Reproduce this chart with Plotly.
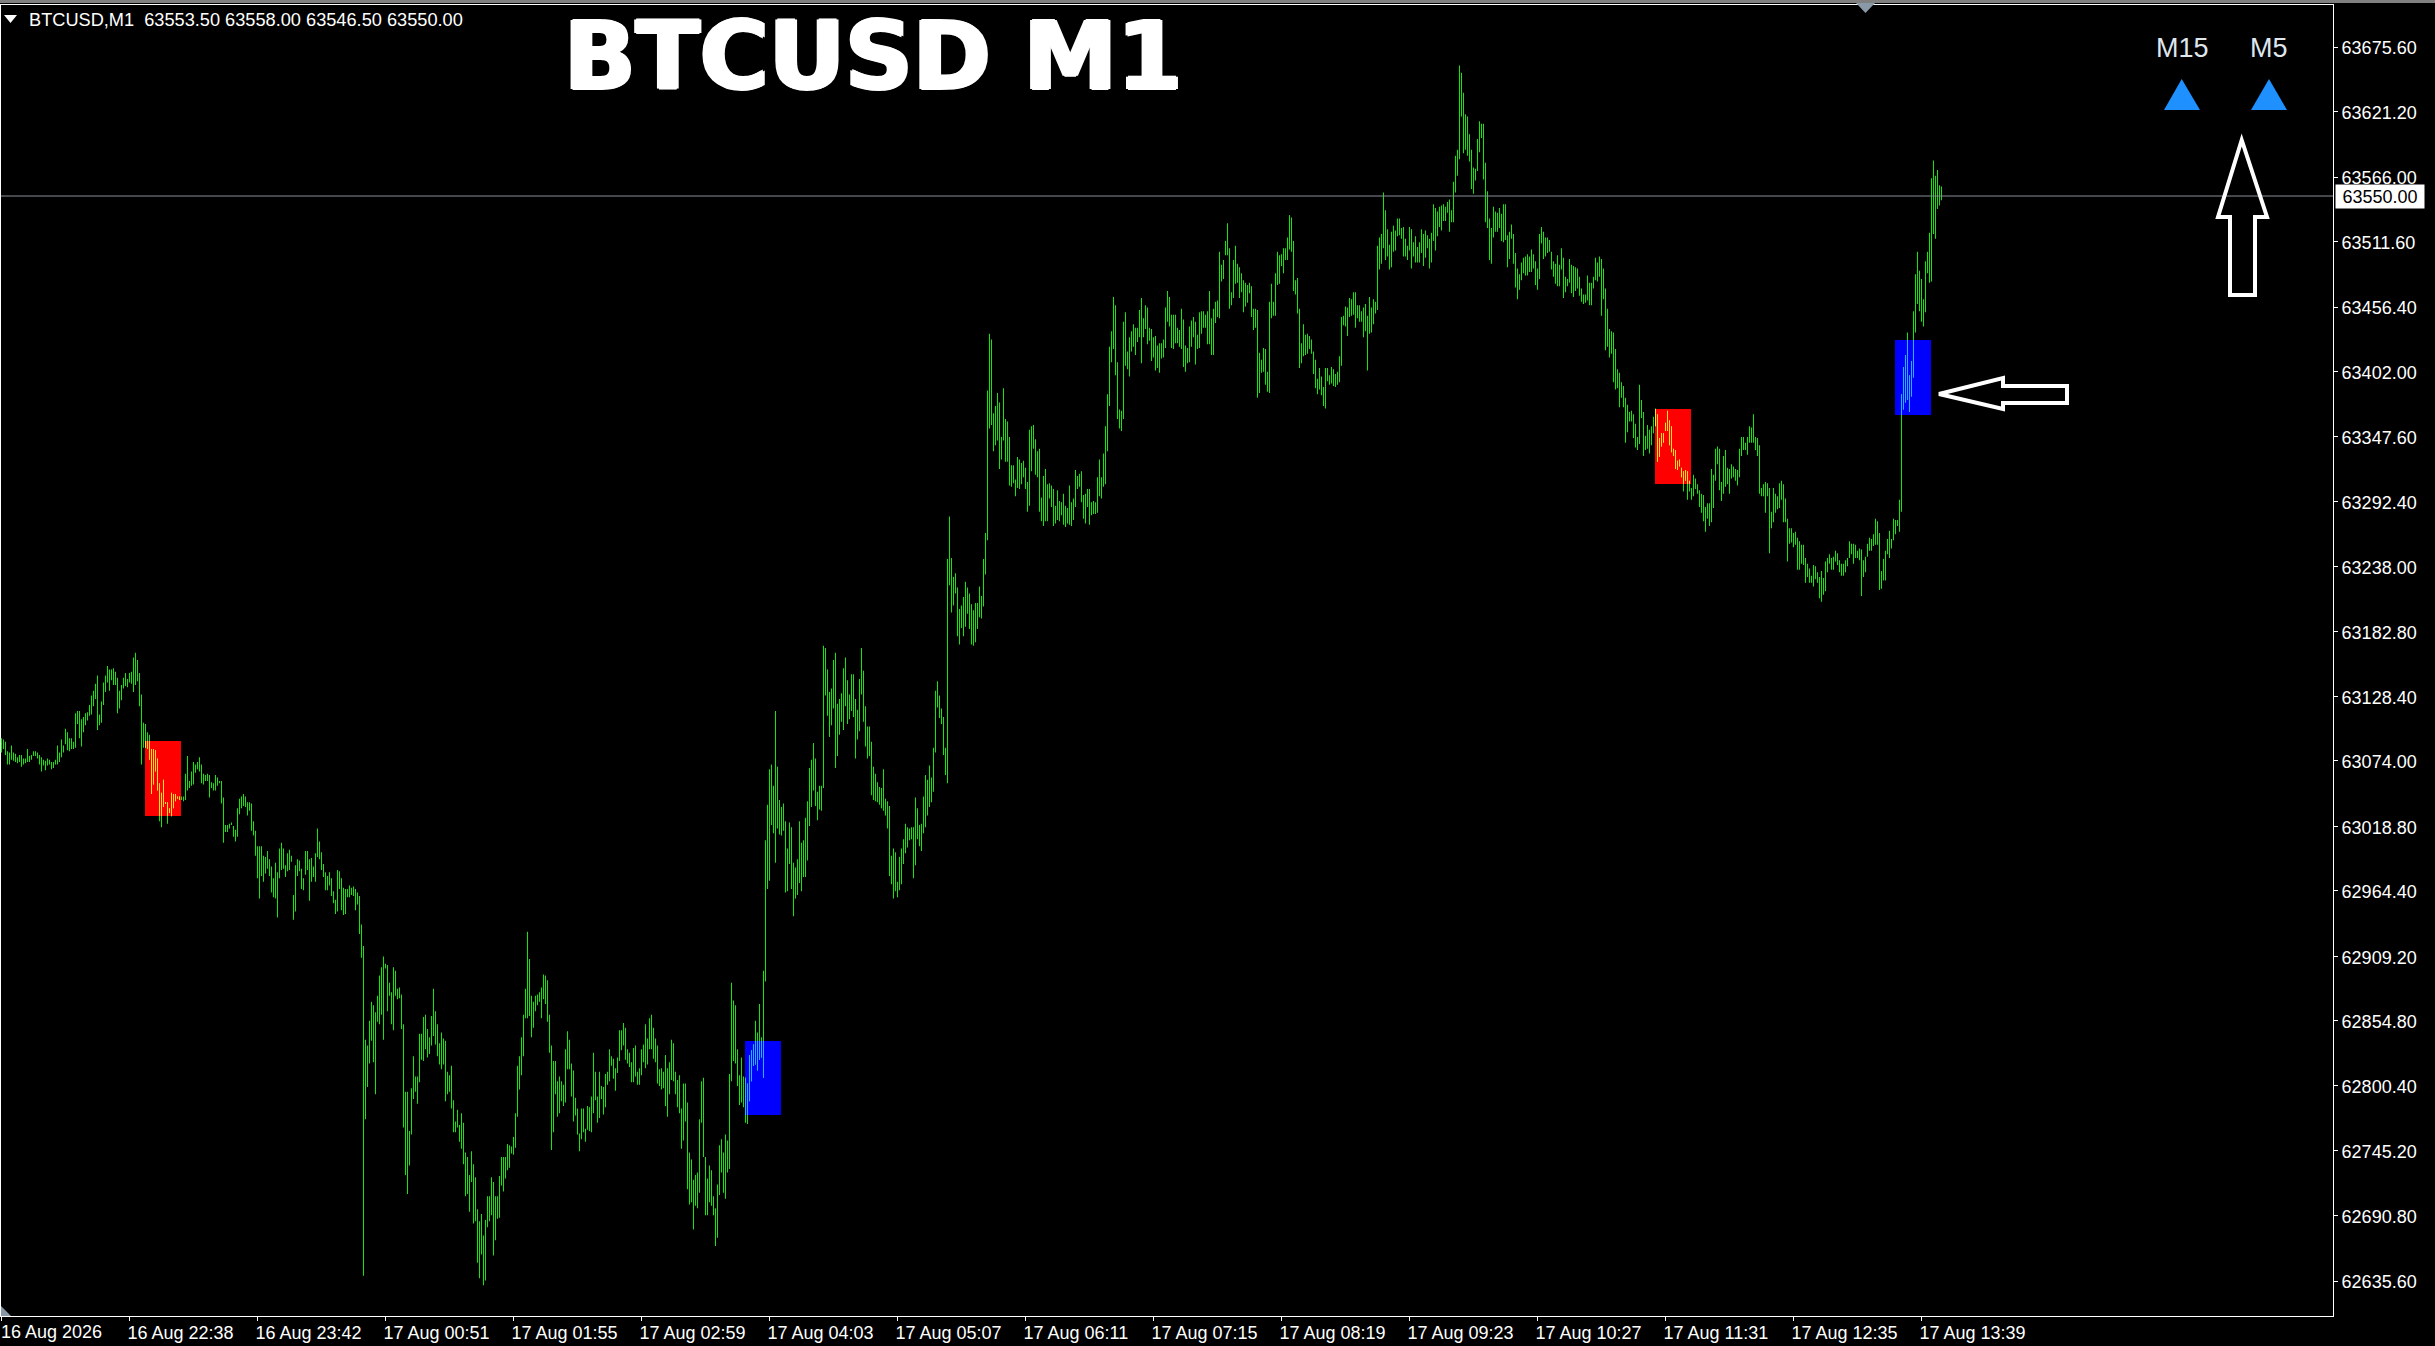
import numpy as np
import plotly.graph_objects as go

high = [
63093,63092,63090,63082,63081,63087,63081,63080,63077,63079,63079,63076,63076,63084,63078,63079,63082,63082,63081,63079,
63077,63075,63074,63076,63075,63073,63073,63075,63087,63081,63092,63087,63101,63098,63093,63093,63090,63114,63116,63116,
63109,63111,63114,63115,63121,63129,63133,63139,63146,63113,63124,63140,63146,63154,63151,63151,63152,63149,63144,63133,
63138,63144,63148,63143,63148,63149,63161,63165,63159,63148,63130,63106,63105,63098,63096,63084,63084,63083,63076,63055,
63047,63058,63039,63039,63034,63047,63046,63046,63044,63044,63044,63044,63063,63078,63057,63065,63073,63071,63073,63077,
63071,63063,63062,63063,63062,63056,63055,63062,63060,63057,63057,63043,63020,63020,63021,63022,63019,63016,63034,63042,
63044,63046,63044,63039,63039,63038,63023,63015,63002,63002,63002,62994,62993,62998,62991,62985,62975,62988,62980,63000,
63005,63000,62986,62996,62999,62994,62961,62986,62991,62990,62983,62975,62998,62998,62991,62992,62985,62996,63017,63006,
62997,62987,62980,62977,62980,62975,62964,62957,62982,62981,62975,62967,62966,62966,62969,62967,62968,62966,62963,62960,
62936,62918,62839,62834,62855,62871,62868,62862,62876,62893,62900,62909,62903,62902,62887,62879,62900,62897,62882,62883,
62877,62852,62795,62795,62762,62798,62825,62808,62808,62844,62844,62858,62860,62848,62841,62859,62882,62863,62852,62836,
62845,62840,62838,62812,62809,62817,62788,62770,62780,62767,62777,62769,62744,62740,62725,62745,62734,62723,62696,62686,
62692,62674,62687,62707,62707,62723,62719,62707,62707,62724,62740,62740,62740,62751,62750,62749,62757,62777,62817,62825,
62841,62860,62882,62930,62907,62876,62871,62876,62877,62879,62883,62894,62893,62889,62860,62834,62821,62821,62804,62808,
62804,62801,62831,62846,62839,62819,62813,62790,62781,62760,62781,62781,62764,62783,62782,62791,62828,62812,62791,62812,
62800,62799,62810,62812,62831,62825,62823,62815,62824,62847,62847,62853,62849,62831,62828,62820,62832,62834,62812,62815,
62831,62835,62852,62840,62857,62860,62849,62840,62834,62814,62815,62812,62826,62815,62820,62839,62836,62812,62805,62809,
62781,62802,62802,62786,62744,62738,62721,62725,62727,62772,62804,62807,62740,62722,62733,62729,62707,62697,62717,62750,
62755,62744,62759,62754,62810,62887,62872,62868,62831,62809,62824,62808,62807,62802,62826,62830,62835,62855,62845,62869,
62841,62897,63007,63037,63067,63071,63053,63116,63069,63041,63035,63038,63023,63000,63022,63018,62988,62984,62991,63023,
63005,63007,63026,63040,63068,63075,63089,63076,63048,63053,63053,63171,63169,63151,63132,63135,63159,63165,63122,63126,
63131,63152,63161,63142,63130,63147,63147,63126,63117,63143,63169,63150,63120,63103,63103,63090,63069,63063,63056,63052,
63051,63067,63042,63040,63036,62994,63000,62997,62972,62993,63000,63008,63021,63018,63017,63018,63018,63043,63034,63020,
63021,63044,63062,63058,63070,63060,63085,63133,63141,63129,63118,63111,63085,63244,63280,63245,63229,63232,63220,63202,
63205,63212,63225,63220,63215,63206,63201,63207,63207,63221,63213,63244,63266,63386,63434,63429,63367,63373,63384,63376,
63347,63388,63362,63360,63347,63323,63323,63311,63330,63328,63325,63327,63321,63309,63353,63356,63357,63345,63335,63337,
63296,63314,63320,63307,63308,63306,63303,63289,63302,63293,63292,63299,63289,63287,63306,63292,63295,63319,63314,63316,
63318,63298,63299,63303,63303,63292,63293,63292,63313,63328,63313,63333,63356,63383,63423,63436,63465,63458,63410,63370,
63369,63444,63452,63419,63431,63436,63442,63439,63439,63454,63464,63447,63458,63456,63439,63438,63431,63432,63424,63426,
63426,63429,63456,63470,63465,63450,63450,63450,63439,63437,63455,63446,63424,63422,63440,63445,63448,63444,63433,63452,
63453,63453,63450,63453,63470,63447,63455,63461,63462,63503,63492,63496,63512,63527,63506,63469,63496,63508,63493,63490,
63485,63479,63477,63475,63477,63474,63455,63455,63454,63418,63412,63422,63421,63402,63461,63476,63461,63485,63503,63500,
63501,63506,63506,63515,63534,63532,63512,63479,63481,63455,63426,63442,63433,63434,63432,63429,63419,63412,63396,63405,
63398,63389,63405,63405,63399,63406,63404,63400,63402,63415,63448,63449,63457,63456,63464,63463,63469,63469,63458,63458,
63453,63456,63459,63449,63465,63456,63463,63461,63508,63515,63518,63553,63538,63522,63509,63520,63525,63521,63531,63531,
63523,63524,63514,63508,63524,63522,63511,63516,63507,63511,63522,63518,63521,63517,63514,63519,63543,63540,63537,63541,
63542,63543,63541,63545,63547,63538,63562,63584,63589,63660,63654,63637,63619,63617,63602,63589,63574,63573,63598,63613,
63611,63611,63578,63554,63531,63523,63541,63537,63536,63540,63535,63543,63543,63517,63520,63526,63518,63502,63489,63484,
63494,63498,63499,63501,63499,63505,63501,63495,63489,63518,63524,63520,63515,63515,63513,63503,63495,63493,63500,63492,
63506,63498,63482,63480,63497,63492,63491,63490,63489,63482,63472,63467,63467,63483,63477,63477,63482,63498,63494,63499,
63497,63489,63472,63455,63438,63436,63435,63421,63404,63401,63393,63390,63380,63374,63368,63369,63366,63358,63347,63391,
63378,63368,63348,63357,63353,63356,63364,63371,63366,63346,63350,63350,63359,63369,63361,63356,63337,63336,63327,63328,
63321,63318,63319,63318,63310,63304,63315,63312,63307,63302,63299,63298,63288,63291,63291,63320,63315,63337,63339,63337,
63309,63331,63336,63321,63320,63324,63322,63320,63319,63337,63347,63347,63342,63347,63356,63355,63366,63347,63346,63340,
63304,63307,63309,63308,63304,63284,63304,63299,63297,63308,63310,63307,63295,63278,63270,63270,63266,63267,63262,63259,
63256,63256,63245,63240,63236,63230,63239,63238,63233,63229,63234,63228,63242,63245,63248,63245,63246,63251,63249,63243,
63240,63240,63243,63245,63259,63257,63257,63256,63251,63253,63252,63243,63246,63257,63262,63261,63265,63278,63276,63266,
63234,63244,63251,63261,63268,63261,63278,63277,63277,63294,63383,63406,63416,63435,63399,63411,63453,63484,63503,63487,
63480,63463,63495,63503,63519,63565,63580,63567,63572,63559,63558,
]

low = [
63081,63084,63079,63071,63071,63075,63074,63073,63072,63073,63069,63071,63072,63073,63073,63075,63078,63078,63076,63071,
63065,63070,63066,63070,63071,63067,63068,63071,63071,63073,63077,63081,63088,63083,63082,63084,63084,63085,63105,63093,
63086,63098,63104,63108,63112,63113,63120,63126,63100,63104,63106,63121,63132,63140,63133,63142,63138,63138,63114,63118,
63125,63135,63137,63136,63140,63139,63132,63138,63141,63120,63071,63085,63085,63084,63075,63046,63054,63065,63049,63023,
63018,63035,63038,63021,63030,63027,63034,63040,63042,63041,63041,63040,63041,63049,63051,63053,63054,63064,63067,63065,
63055,63054,63057,63057,63043,63051,63049,63049,63053,63055,63038,63005,63014,63014,63017,63020,63010,63006,63010,63029,
63034,63036,63035,63028,63032,63015,63011,62994,62975,62958,62977,62972,62979,62983,62977,62963,62959,62958,62942,62975,
62982,62983,62976,62981,62982,62989,62940,62947,62977,62981,62966,62965,62978,62982,62956,62972,62976,62972,62993,62991,
62982,62976,62965,62965,62969,62960,62954,62945,62947,62966,62948,62944,62945,62959,62959,62961,62960,62948,62953,62928,
62908,62640,62772,62799,62819,62838,62820,62793,62854,62852,62860,62839,62899,62863,62876,62852,62847,62876,62873,62874,
62848,62765,62725,62709,62733,62759,62789,62795,62785,62803,62822,62821,62831,62824,62827,62834,62842,62835,62825,62818,
62814,62818,62787,62793,62795,62781,62761,62761,62765,62753,62747,62734,62707,62709,62694,62719,62684,62686,62651,62638,
62658,62632,62636,62681,62686,62691,62657,62670,62688,62689,62716,62711,62722,62729,62731,62743,62742,62748,62774,62797,
62809,62825,62857,62857,62859,62841,62849,62863,62868,62871,62857,62873,62869,62854,62828,62746,62761,62793,62774,62777,
62787,62783,62786,62814,62814,62791,62770,62775,62759,62745,62755,62761,62753,62763,62762,62761,62777,62788,62769,62773,
62789,62776,62782,62801,62804,62817,62806,62796,62811,62821,62830,62834,62822,62819,62816,62803,62803,62808,62801,62801,
62809,62820,62815,62818,62831,62831,62823,62820,62802,62800,62797,62798,62783,62774,62793,62805,62804,62793,62782,62777,
62747,62754,62770,62713,62700,62702,62679,62699,62697,62710,62769,62740,62691,62691,62702,62699,62691,62665,62672,62708,
62727,62710,62705,62727,62730,62804,62821,62819,62800,62784,62786,62782,62769,62768,62787,62804,62817,62818,62813,62822,
62824,62807,62888,62966,62973,63020,63013,62988,63017,63012,63011,63015,62963,62964,62987,62966,62943,62958,62961,62971,
62964,62976,62976,62990,63019,63035,63049,63036,63024,63033,63032,63051,63129,63112,63094,63104,63118,63068,63078,63096,
63107,63100,63120,63105,63109,63116,63111,63076,63092,63099,63130,63107,63086,63076,63078,63045,63041,63040,63039,63037,
63034,63032,63028,63017,62977,62970,62958,62964,62959,62965,62970,62987,62996,63001,63007,63008,62975,62986,63008,63002,
62998,63013,63018,63028,63035,63039,63048,63081,63119,63110,63105,63079,63062,63055,63222,63199,63205,63215,63179,63172,
63186,63179,63187,63198,63185,63172,63171,63174,63185,63195,63194,63204,63231,63260,63354,63357,63335,63340,63344,63320,
63328,63344,63326,63326,63306,63305,63308,63297,63304,63303,63307,63313,63303,63284,63289,63318,63337,63315,63313,63284,
63276,63272,63276,63276,63295,63288,63272,63274,63277,63276,63281,63273,63271,63274,63273,63272,63277,63288,63303,63305,
63292,63278,63274,63288,63273,63281,63282,63282,63283,63297,63295,63305,63307,63335,63373,63410,63421,63399,63362,63354,
63352,63362,63407,63404,63398,63419,63423,63416,63427,63431,63409,63431,63438,63425,63428,63411,63414,63403,63405,63401,
63413,63414,63422,63444,63440,63422,63421,63426,63426,63423,63421,63406,63402,63409,63410,63423,63431,63408,63421,63422,
63434,63439,63439,63425,63425,63416,63416,63443,63448,63447,63478,63480,63500,63500,63455,63458,63464,63476,63477,63464,
63469,63452,63457,63460,63468,63448,63437,63439,63380,63384,63401,63402,63391,63385,63384,63447,63449,63449,63475,63476,
63491,63485,63496,63496,63505,63503,63470,63467,63451,63405,63409,63415,63416,63417,63421,63417,63400,63388,63383,63387,
63382,63373,63371,63394,63391,63392,63390,63389,63391,63393,63407,63441,63440,63432,63448,63449,63450,63439,63447,63444,
63444,63431,63436,63403,63434,63435,63442,63451,63454,63488,63493,63506,63496,63499,63488,63490,63503,63504,63516,63517,
63514,63499,63499,63496,63504,63489,63499,63494,63494,63494,63502,63491,63498,63506,63489,63494,63512,63504,63516,63524,
63521,63529,63529,63536,63520,63528,63528,63553,63567,63581,63617,63586,63589,63584,63579,63556,63552,63563,63571,63587,
63599,63564,63528,63523,63496,63493,63515,63520,63520,63523,63512,63511,63513,63490,63497,63514,63493,63473,63463,63471,
63479,63485,63483,63483,63486,63486,63489,63475,63471,63480,63510,63497,63499,63502,63503,63488,63482,63476,63474,63474,
63488,63464,63469,63474,63477,63468,63465,63470,63472,63466,63461,63459,63460,63462,63458,63458,63472,63479,63478,63482,
63449,63463,63420,63423,63414,63417,63393,63387,63388,63372,63380,63372,63342,63351,63360,63360,63346,63338,63336,63341,
63363,63331,63336,63337,63333,63340,63350,63356,63326,63330,63339,63342,63352,63352,63340,63334,63331,63320,63319,63322,
63313,63301,63310,63294,63301,63294,63297,63303,63299,63288,63283,63276,63267,63278,63272,63275,63287,63310,63324,63302,
63293,63299,63305,63307,63299,63312,63313,63310,63306,63313,63331,63336,63336,63332,63342,63342,63342,63336,63331,63299,
63297,63297,63283,63297,63249,63270,63275,63283,63286,63287,63294,63275,63275,63242,63257,63258,63254,63256,63235,63235,
63240,63239,63224,63229,63224,63224,63221,63227,63224,63211,63208,63214,63217,63233,63240,63235,63235,63242,63239,63233,
63230,63230,63233,63238,63245,63248,63240,63245,63245,63243,63213,63229,63233,63246,63251,63251,63255,63256,63256,63218,
63219,63226,63226,63248,63245,63253,63260,63265,63272,63267,63284,63370,63376,63378,63368,63381,63397,63435,63459,63453,
63444,63440,63452,63485,63477,63478,63518,63514,63539,63542,63546.5,
]

price_ticks = [63675.60,63621.20,63566.00,63511.60,63456.40,63402.00,63347.60,63292.40,63238.00,63182.80,
               63128.40,63074.00,63018.80,62964.40,62909.20,62854.80,62800.40,62745.20,62690.80,62635.60]
first_time_label = "16 Aug 2026"
time_labels = ["","16 Aug 22:38","16 Aug 23:42","17 Aug 00:51","17 Aug 01:55","17 Aug 02:59",
               "17 Aug 04:03","17 Aug 05:07","17 Aug 06:11","17 Aug 07:15","17 Aug 08:19","17 Aug 09:23",
               "17 Aug 10:27","17 Aug 11:31","17 Aug 12:35","17 Aug 13:39"]
time_tick_bars = [64*k for k in range(len(time_labels))]
last_price = 63550.00
header = "BTCUSD,M1\u00a0\u00a063553.50 63558.00 63546.50 63550.00"

zone_start = [71.75, 371.75, 826.75, 946.75]
zone_end = [89.75, 389.75, 844.75, 964.75]
zone_top = [63090.7, 62837.9, 63370.5, 63428.7]
zone_bottom = [63027.5, 62775.5, 63307.3, 63365.4]
zone_fill = ["#ff0000", "#0000ff", "#ff0000", "#0000ff"]
zone_line = ["#ffe41a", "#1fb4ff", "#ffe41a", "#1fb4ff"]

W, H = 2435, 1346
L, R, T, B = 1, 2333, 5, 1316
def px(x): return (x - L) / (R - L)
def py(y): return (B - y) / (B - T)
def path(pts, close=True):
    s = "M " + " L ".join(f"{px(a):.6f},{py(b):.6f}" for a, b in pts)
    return s + (" Z" if close else "")

n = min(len(high), len(low))
hi = np.array(high[:n], float)
lo = np.array(low[:n], float)
idx = np.arange(n)

fig = go.Figure()
fig.add_trace(go.Bar(x=idx, base=lo, y=np.maximum(hi - lo, 0.5), width=0.4,
                     marker=dict(color="#14e60c", line=dict(width=0)), hoverinfo="skip"))
for s, e, t, b, c in zip(zone_start, zone_end, zone_top, zone_bottom, zone_line):
    m = (idx >= s) & (idx <= e) & (hi > b) & (lo < t)
    top = np.minimum(hi[m], t)
    bot = np.maximum(lo[m], b)
    fig.add_trace(go.Bar(x=idx[m], base=bot, y=np.maximum(top - bot, 0.5), width=0.4,
                         marker=dict(color=c, line=dict(width=0)), hoverinfo="skip"))

shapes = []
for s, e, t, b, c in zip(zone_start, zone_end, zone_top, zone_bottom, zone_fill):
    shapes.append(dict(type="rect", xref="x", yref="y", x0=s, x1=e, y0=b, y1=t,
                       fillcolor=c, line=dict(width=0), layer="below"))
shapes.append(dict(type="line", xref="paper", yref="y", x0=0, x1=1, y0=last_price, y1=last_price,
                   line=dict(color="#8a929a", width=1)))
white_line = dict(color="#ffffff", width=4)
shapes.append(dict(type="path", xref="paper", yref="paper", line=white_line,
                   path=path([(2241.7,140),(2218,217),(2230,217),(2230,295),(2255,295),(2255,217),(2267,217)])))
shapes.append(dict(type="path", xref="paper", yref="paper", line=white_line,
                   path=path([(1939,394),(2003,378),(2003,386),(2067,386),(2067,403),(2003,403),(2003,409)])))
for tri in ([(2181.7,79),(2164,110),(2200,110)], [(2269,79),(2251,110),(2287,110)]):
    shapes.append(dict(type="path", xref="paper", yref="paper", line=dict(width=0),
                       fillcolor="#1e90ff", path=path(tri)))
shapes.append(dict(type="path", xref="paper", yref="paper", line=dict(width=0), fillcolor="#ffffff",
                   path=path([(4,15),(17,15),(10.5,23)])))
shapes.append(dict(type="path", xref="paper", yref="paper", line=dict(width=0), fillcolor="#8a99a8",
                   path=path([(1,1306),(1,1316),(11,1316)])))
shapes.append(dict(type="path", xref="paper", yref="paper", line=dict(width=0), fillcolor="#8a99a8",
                   path=path([(1856,3),(1875,3),(1865.5,13)])))
shapes.append(dict(type="rect", xref="paper", yref="paper", x0=px(0), x1=px(W), y0=py(3), y1=py(0),
                   fillcolor="#808080", line=dict(width=0)))

FONT = "Liberation Sans, Arial, sans-serif"
annotations = [
    dict(xref="paper", yref="paper", x=px(27), y=py(19.5), text=header, showarrow=False, xanchor="left",
         yanchor="middle", font=dict(family=FONT, size=18.2, color="#ffffff")),
    dict(xref="paper", yref="paper", x=px(873), y=py(57), text="<b>BTCUSD M1</b>", showarrow=False,
         xanchor="center", yanchor="middle",
         font=dict(family="DejaVu Sans, Liberation Sans, sans-serif", size=94, color="#ffffff",
                   shadow="2px 0 0 #fff, -2px 0 0 #fff, 0 1px 0 #fff, 0 -1px 0 #fff")),
    dict(xref="paper", yref="paper", x=px(2182), y=py(48), text="M15", showarrow=False,
         xanchor="center", yanchor="middle", font=dict(family=FONT, size=27, color="#dfe6ee")),
    dict(xref="paper", yref="paper", x=px(2269), y=py(48), text="M5", showarrow=False,
         xanchor="center", yanchor="middle", font=dict(family=FONT, size=27, color="#dfe6ee")),
    dict(xref="paper", yref="y", x=px(2335), y=last_price, text="63550.00", showarrow=False,
         xanchor="left", yanchor="middle", width=88, height=23, bgcolor="#ffffff", borderpad=0,
         font=dict(family=FONT, size=18, color="#000000")),
    dict(xref="paper", yref="paper", x=px(0), y=py(1332), text=first_time_label, showarrow=False,
         xanchor="left", yanchor="middle", xshift=-1,
         font=dict(family=FONT, size=18, color="#ffffff")),
]

fig.update_layout(
    width=W, height=H, autosize=False, showlegend=False, barmode="overlay",
    paper_bgcolor="#000000", plot_bgcolor="#000000",
    margin=dict(l=L, r=W - R, t=T, b=H - B, pad=0),
    xaxis=dict(range=[-0.25, -0.25 + (R - L) / 2], tickmode="array", tickvals=time_tick_bars,
               ticktext=time_labels, ticks="outside", ticklen=4, tickcolor="#ffffff", tickwidth=1,
               ticklabelposition="outside right", ticklabelshift=-3, tickangle=0, showgrid=False,
               zeroline=False, showline=True, mirror=True, linecolor="#ffffff", linewidth=1,
               tickfont=dict(family=FONT, size=18, color="#ffffff")),
    yaxis=dict(range=[62606.1, 63711.0], side="right", tickmode="array", tickvals=price_ticks,
               ticktext=[f"{v:.2f}" for v in price_ticks], ticks="outside", ticklen=4,
               ticklabelshift=1, tickcolor="#ffffff", tickwidth=1, showgrid=False, zeroline=False,
               showline=True, mirror=True, linecolor="#ffffff", linewidth=1,
               tickfont=dict(family=FONT, size=18, color="#ffffff")),
    shapes=shapes, annotations=annotations,
)
fig.write_html("out.html", config=dict(displayModeBar=False, responsive=False),
               post_script="document.body.style.margin='0';document.body.style.overflow='hidden';document.body.style.background='#000';")
